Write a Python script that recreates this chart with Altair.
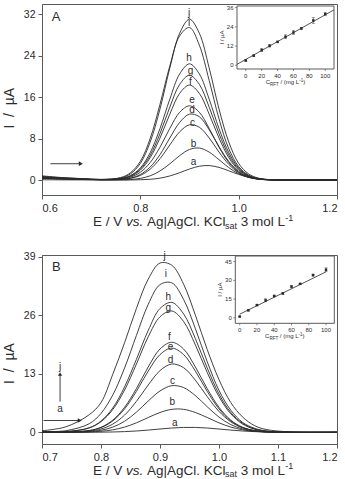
import altair as alt
import pandas as pd

FONT = "Liberation Sans"
INK = "#2a2a2a"
EDGE = "#5a5a5a"
LETTERS = list("abcdefghij")

# ---------------- Panel A: voltammograms a–j ----------------
E_A = [0.60, 0.64, 0.68, 0.72, 0.76, 0.78, 0.80, 0.82, 0.84, 0.86, 0.88,
       0.90, 0.92, 0.94, 0.96, 0.98, 1.00, 1.02, 1.04, 1.06, 1.10, 1.20]
I_A = {
    "a": [0.05, 0.03, 0.02, 0.01, 0.00, 0.01, 0.05, 0.14, 0.36, 0.78, 1.41, 2.12, 2.66, 2.78, 2.43, 1.77, 1.08, 0.55, 0.23, 0.08, 0.00, 0.00],
    "b": [0.30, 0.18, 0.10, 0.05, 0.04, 0.10, 0.31, 0.81, 1.74, 3.12, 4.70, 5.89, 6.16, 5.38, 3.92, 2.38, 1.21, 0.51, 0.18, 0.05, 0.00, 0.00],
    "c": [0.35, 0.21, 0.12, 0.05, 0.10, 0.31, 0.88, 2.09, 4.10, 6.76, 9.29, 10.64, 10.17, 8.11, 5.39, 3.00, 1.39, 0.54, 0.17, 0.05, 0.00, 0.00],
    "d": [0.40, 0.24, 0.14, 0.06, 0.12, 0.37, 1.06, 2.50, 4.90, 8.10, 11.10, 12.70, 12.20, 9.70, 6.45, 3.58, 1.66, 0.64, 0.20, 0.06, 0.00, 0.00],
    "e": [0.45, 0.27, 0.16, 0.07, 0.18, 0.55, 1.49, 3.36, 6.33, 9.95, 13.06, 14.30, 13.06, 9.95, 6.33, 3.36, 1.49, 0.55, 0.17, 0.04, 0.00, 0.00],
    "f": [0.50, 0.30, 0.18, 0.08, 0.24, 0.70, 1.90, 4.30, 8.10, 12.70, 16.70, 18.30, 16.70, 12.70, 8.10, 4.30, 1.90, 0.70, 0.22, 0.06, 0.00, 0.00],
    "g": [0.55, 0.33, 0.19, 0.08, 0.26, 0.78, 2.10, 4.75, 8.95, 14.06, 18.44, 20.20, 18.44, 14.06, 8.95, 4.75, 2.10, 0.78, 0.24, 0.06, 0.00, 0.00],
    "h": [0.60, 0.36, 0.21, 0.09, 0.28, 0.86, 2.33, 5.26, 9.92, 15.60, 20.45, 22.40, 20.45, 15.60, 9.92, 5.26, 2.33, 0.86, 0.26, 0.07, 0.00, 0.00],
    "i": [0.70, 0.42, 0.25, 0.10, 0.47, 1.40, 3.60, 8.00, 14.60, 22.00, 27.80, 29.40, 26.00, 19.20, 11.80, 6.00, 2.60, 0.95, 0.30, 0.08, 0.00, 0.00],
    "j": [0.80, 0.48, 0.28, 0.12, 0.39, 1.19, 3.20, 7.30, 13.70, 21.60, 28.30, 31.00, 28.30, 21.60, 13.70, 7.30, 3.20, 1.19, 0.37, 0.10, 0.00, 0.00],
}
LAB_A_E = [0.908, 0.908, 0.906, 0.905, 0.905, 0.902, 0.902, 0.899, 0.899, 0.899]
LAB_A_I = [3.5, 7.0, 11.0, 13.4, 15.4, 18.9, 21.1, 23.6, 30.2, 32.2]
ARROW_A_E = [0.617, 0.679]
ARROW_A_I = [3.14, 3.14]

# Panel A calibration inset
C_A = [0, 10, 20, 30, 40, 50, 60, 70, 85, 100]
IP_A = [3.0, 6.0, 9.5, 12.2, 14.6, 17.8, 20.5, 23.0, 28.0, 32.0]
ERR_A = [0.5, 0.5, 1.0, 0.8, 0.5, 1.2, 1.2, 0.5, 1.8, 0.8]
FIT_A_C = [-11, 111]
FIT_A_I = [0.6, 34.6]

# ---------------- Panel B: voltammograms a–j ----------------
E_B = [0.70, 0.74, 0.78, 0.80, 0.82, 0.84, 0.86, 0.88, 0.90, 0.92,
       0.94, 0.96, 0.98, 1.00, 1.02, 1.04, 1.06, 1.08, 1.12, 1.20]
I_B = {
    "a": [0.00, 0.00, 0.01, 0.03, 0.07, 0.15, 0.29, 0.49, 0.73, 0.95, 1.08, 1.08, 0.95, 0.73, 0.49, 0.29, 0.15, 0.07, 0.01, 0.00],
    "b": [0.01, 0.02, 0.08, 0.23, 0.55, 1.16, 2.10, 3.28, 4.40, 5.10, 5.10, 4.40, 3.28, 2.10, 1.16, 0.55, 0.23, 0.08, 0.01, 0.00],
    "c": [0.02, 0.03, 0.16, 0.46, 1.15, 2.45, 4.47, 6.94, 9.18, 10.35, 9.94, 8.14, 5.68, 3.38, 1.71, 0.74, 0.27, 0.09, 0.00, 0.00],
    "d": [0.03, 0.05, 0.25, 0.74, 1.82, 3.83, 6.87, 10.50, 13.70, 15.17, 14.35, 11.56, 7.93, 4.64, 2.32, 0.98, 0.36, 0.11, 0.00, 0.00],
    "e": [0.05, 0.08, 0.37, 1.05, 2.53, 5.20, 9.10, 13.58, 17.26, 18.70, 17.26, 13.58, 9.10, 5.20, 2.53, 1.05, 0.37, 0.11, 0.00, 0.00],
    "f": [0.05, 0.08, 0.40, 1.12, 2.70, 5.56, 9.70, 14.50, 18.50, 20.00, 18.50, 14.50, 9.70, 5.56, 2.70, 1.12, 0.40, 0.12, 0.00, 0.00],
    "g": [0.10, 0.14, 0.96, 2.36, 5.06, 9.40, 15.15, 21.20, 25.65, 26.95, 24.60, 19.40, 13.30, 7.90, 4.10, 1.83, 0.71, 0.24, 0.02, 0.00],
    "h": [0.10, 0.15, 1.00, 2.50, 5.40, 10.10, 16.20, 22.60, 27.50, 28.85, 26.30, 20.80, 14.30, 8.50, 4.40, 2.00, 0.76, 0.25, 0.02, 0.00],
    "i": [0.15, 0.35, 1.90, 4.20, 8.30, 14.30, 21.50, 28.40, 32.80, 33.20, 29.50, 23.00, 15.70, 9.30, 4.90, 2.20, 0.90, 0.30, 0.03, 0.00],
    "j": [0.35, 1.20, 3.90, 6.60, 12.90, 19.90, 27.50, 34.00, 37.60, 37.10, 32.90, 26.00, 18.40, 11.70, 6.60, 3.40, 1.50, 0.62, 0.10, 0.00],
}
LAB_B_E = [0.925, 0.921, 0.921, 0.918, 0.918, 0.916, 0.914, 0.914, 0.910, 0.908]
LAB_B_I = [2.1, 6.7, 11.5, 16.1, 19.0, 21.2, 27.5, 30.1, 35.1, 39.2]
ARROW_B_E = [0.7027, 0.764]
ARROW_B_I = [2.62, 2.62]
VARROW_B_E = 0.7306
VARROW_B_I = [6.8, 12.95]
VLAB_B_I = [5.1, 14.6]

# Panel B calibration inset
C_B = [0, 10, 20, 30, 40, 50, 60, 70, 85, 100]
IP_B = [1.0, 6.0, 10.2, 14.0, 17.5, 19.5, 25.0, 27.2, 34.2, 38.5]
ERR_B = [0.3, 0.5, 0.6, 1.2, 0.6, 0.6, 1.0, 0.5, 0.8, 1.5]
FIT_B_C = [0, 100]
FIT_B_I = [2.9, 36.8]

TXT_OPACITY = 0.99  # keeps glyph antialiasing greyscale


def one(**kw):
    return pd.DataFrame({k: [v] for k, v in kw.items()})


def long_table(E, curves):
    rows = [{"curve": k, "E": e, "I": v} for k, vals in curves.items() for e, v in zip(E, vals)]
    return pd.DataFrame(rows)


def text_piece(txt, x, y, fs, style="normal", align="left", angle=0, baseline="alphabetic"):
    return alt.Chart(one(t=txt)).mark_text(
        align=align, baseline=baseline, font=FONT, fontSize=fs, fontStyle=style,
        color=INK, angle=angle, opacity=TXT_OPACITY).encode(
        x=alt.value(x), y=alt.value(y), text="t:N")


def x_title(base):
    parts = [("E / V", 51.0, 0, 13.5, "normal"), ("vs.", 84.0, 0, 13.5, "italic"),
             ("Ag|AgCl. KCl", 105.0, 0, 13.5, "normal"), ("sat", 183.0, 2.5, 9, "normal"),
             ("3 mol L", 198.8, 0, 13.5, "normal"), ("-1", 243.2, -5.5, 9, "normal")]
    return [text_piece(t, x, base + dy, fs, st) for t, x, dy, fs, st in parts]


def inset(C, IP, ERR, fc, fi, xdom, ydom, box, yticks):
    x0, x1, y0, y1 = box
    sx = alt.Scale(domain=xdom, range=[x0, x1], nice=False, zero=False)
    sy = alt.Scale(domain=ydom, range=[y1, y0], nice=False, zero=False)
    X = alt.X("C:Q", scale=sx, axis=None)
    Y = alt.Y("V:Q", scale=sy, axis=None)
    pts = pd.DataFrame({"C": C, "V": IP, "lo": [v - e for v, e in zip(IP, ERR)],
                        "hi": [v + e for v, e in zip(IP, ERR)]})
    frame = alt.Chart(one(k=0)).mark_rect(fill="white", stroke=EDGE, strokeWidth=1).encode(
        x=alt.value(x0), x2=alt.value(x1), y=alt.value(y0), y2=alt.value(y1))
    fit = alt.Chart(pd.DataFrame({"C": fc, "V": fi})).mark_line(color=INK, strokeWidth=0.8).encode(x=X, y=Y)
    bars = alt.Chart(pts).mark_rule(color=INK, strokeWidth=0.6).encode(
        x=X, y=alt.Y("lo:Q", scale=sy, axis=None), y2="hi:Q")
    cap_lo = alt.Chart(pts).mark_tick(orient="horizontal", size=3, thickness=0.6, color=INK).encode(
        x=X, y=alt.Y("lo:Q", scale=sy, axis=None))
    cap_hi = alt.Chart(pts).mark_tick(orient="horizontal", size=3, thickness=0.6, color=INK).encode(
        x=X, y=alt.Y("hi:Q", scale=sy, axis=None))
    dots = alt.Chart(pts).mark_point(shape="square", filled=True, size=6, color=INK, opacity=1).encode(x=X, y=Y)
    xt = pd.DataFrame({"C": [0, 20, 40, 60, 80, 100], "t": ["0", "20", "40", "60", "80", "100"]})
    yt = pd.DataFrame({"V": yticks, "t": [str(v) for v in yticks]})
    xtick = alt.Chart(xt).mark_rule(color=EDGE, strokeWidth=0.7).encode(
        x=X, y=alt.value(y1), y2=alt.value(y1 + 2))
    ytick = alt.Chart(yt).mark_rule(color=EDGE, strokeWidth=0.7).encode(
        y=Y, x=alt.value(x0 - 2), x2=alt.value(x0))
    xlab = alt.Chart(xt).mark_text(font=FONT, fontSize=6, color=INK, baseline="top",
                                   opacity=TXT_OPACITY).encode(x=X, y=alt.value(y1 + 3.5), text="t:N")
    ylab = alt.Chart(yt).mark_text(font=FONT, fontSize=6, color=INK, align="right", baseline="middle",
                                   opacity=TXT_OPACITY).encode(y=Y, x=alt.value(x0 - 3.5), text="t:N")
    # axis titles of the inset
    cx = (x0 + x1) / 2
    s = cx - 19.7
    ty = y1 + 15
    ttl = [text_piece("C", s, ty, 6), text_piece("RFT", s + 4.3, ty + 1.5, 4.5),
           text_piece("/ (mg L", s + 14.7, ty, 6), text_piece("-1", s + 33.4, ty - 2.5, 4.5),
           text_piece(")", s + 37.4, ty, 6),
           text_piece("I / µA", x0 - 15, (y0 + y1) / 2, 6, align="center", angle=270, baseline="middle")]
    return alt.layer(frame, fit, bars, cap_lo, cap_hi, dots, xtick, ytick, xlab, ylab, *ttl)


def panel(E, curves, lab_e, lab_i, xdom, xticks, ydom, yticks, W, H, title_y, title_base,
          letter, letter_e, letter_i, arrows, ins):
    xs = alt.Scale(domain=xdom, nice=False, zero=False)
    ys = alt.Scale(domain=ydom, nice=False, zero=False)
    X = alt.X("E:Q", scale=xs, axis=alt.Axis(values=xticks, format=".1f", title=None))
    Y = alt.Y("I:Q", scale=ys, axis=alt.Axis(values=yticks, format="d", title="I \u00a0/ \u00a0µA",
                                             titleX=-32.7, titleY=title_y, titleAngle=270,
                                             titleBaseline="middle", titleAlign="center"))
    lines = alt.Chart(long_table(E, curves)).mark_line(
        interpolate="catmull-rom", color=INK, strokeWidth=0.9).encode(x=X, y=Y, detail="curve:N")
    labs = alt.Chart(pd.DataFrame({"E": lab_e, "I": lab_i, "t": LETTERS})).mark_text(
        font=FONT, fontSize=10, color=INK, baseline="middle", opacity=TXT_OPACITY).encode(
        x=X, y=Y, text="t:N")
    let = alt.Chart(one(E=letter_e, I=letter_i, t=letter)).mark_text(
        font=FONT, fontSize=13, color=INK, baseline="middle", opacity=TXT_OPACITY).encode(
        x=X, y=Y, text="t:N")
    main = alt.layer(lines, labs, let, *arrows(X, Y), *x_title(title_base))
    return alt.layer(main, ins).resolve_scale(x="independent", y="independent").properties(width=W, height=H)


def arrows_A(X, Y):
    rule = alt.Chart(one(E=ARROW_A_E[0], E2=ARROW_A_E[1], I=ARROW_A_I[0])).mark_rule(
        color=INK, strokeWidth=0.9).encode(x=X, x2="E2:Q", y=Y)
    head = alt.Chart(one(E=ARROW_A_E[1], I=ARROW_A_I[1])).mark_point(
        shape="triangle-right", filled=True, size=22, color=INK, opacity=1).encode(x=X, y=Y)
    return [rule, head]


def arrows_B(X, Y):
    rule = alt.Chart(one(E=ARROW_B_E[0], E2=ARROW_B_E[1], I=ARROW_B_I[0])).mark_rule(
        color=INK, strokeWidth=0.9).encode(x=X, x2="E2:Q", y=Y)
    head = alt.Chart(one(E=ARROW_B_E[1], I=ARROW_B_I[1])).mark_point(
        shape="triangle-right", filled=True, size=22, color=INK, opacity=1).encode(x=X, y=Y)
    vrule = alt.Chart(one(E=VARROW_B_E, I=VARROW_B_I[0], I2=VARROW_B_I[1])).mark_rule(
        color=INK, strokeWidth=0.9).encode(x=X, y=Y, y2="I2:Q")
    vhead = alt.Chart(one(E=VARROW_B_E, I=VARROW_B_I[1])).mark_point(
        shape="triangle-up", filled=True, size=18, color=INK, opacity=1).encode(x=X, y=Y)
    vlab = alt.Chart(pd.DataFrame({"E": [VARROW_B_E, VARROW_B_E], "I": VLAB_B_I, "t": ["a", "j"]})).mark_text(
        font=FONT, fontSize=10, color=INK, baseline="middle", opacity=TXT_OPACITY).encode(
        x=X, y=Y, text="t:N")
    return [rule, head, vrule, vhead, vlab]


inset_A = inset(C_A, IP_A, ERR_A, FIT_A_C, FIT_A_I, [-11, 111], [-2.3, 37],
                (195, 292, 2, 65), [0, 12, 24, 36])
inset_B = inset(C_B, IP_B, ERR_B, FIT_B_C, FIT_B_I, [-5.1, 109.6], [-4.4, 49.5],
                (193.3, 292.3, 1, 68.3), [0, 15, 30, 45])

panel_A = panel(E_A, I_A, LAB_A_E, LAB_A_I, [0.6, 1.2], [0.6, 0.8, 1.0, 1.2],
                [-2.89, 33.93], [0, 8, 16, 24, 32], 295, 191, 103.7, 222,
                "A", 0.6284, 31.4, arrows_A, inset_A)
panel_B = panel(E_B, I_B, LAB_B_E, LAB_B_I, [0.7, 1.2], [0.7, 0.8, 0.9, 1.0, 1.1, 1.2],
                [-2.6, 39.38], [0, 13, 26, 39], 295, 189, 108, 219.5,
                "B", 0.7243, 36.8, arrows_B, inset_B)

chart = alt.vconcat(panel_A, panel_B, spacing=19).properties(
    padding={"left": 1, "top": 3, "right": 0, "bottom": 0}, background="white"
).configure_view(stroke=EDGE, strokeWidth=1).configure_axis(
    domainColor=EDGE, tickColor=EDGE, tickSize=4, labelFont=FONT, labelColor=INK,
    labelPadding=3, titleFont=FONT, titleFontSize=14, titleColor=INK,
    titleFontWeight="normal", grid=False
).configure_axisX(labelFontSize=11).configure_axisY(labelFontSize=10.5)

chart.save("out.html", embed_options={"renderer": "svg", "actions": False})
